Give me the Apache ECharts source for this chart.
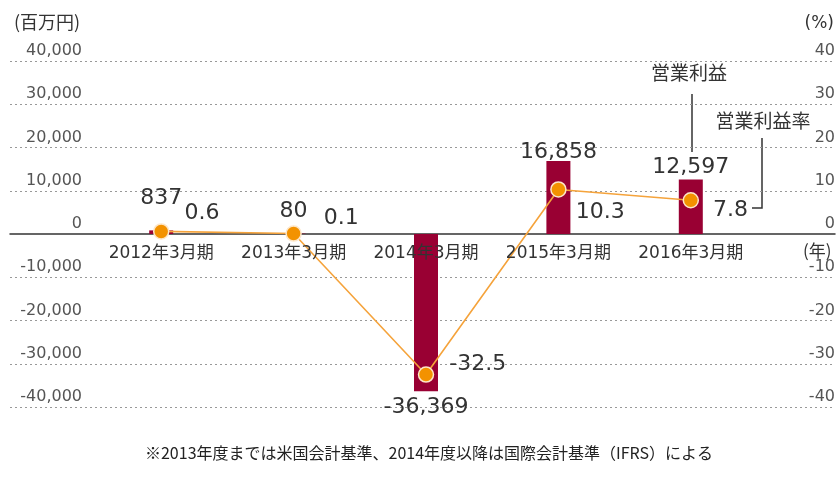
<!DOCTYPE html>
<html>
<head>
<meta charset="utf-8">
<script src="https://cdn.jsdelivr.net/npm/echarts@6/dist/echarts.min.js"></script>
<style>html,body{margin:0;padding:0;background:#fff}#c{width:838px;height:487px}</style>
</head>
<body>
<div id="c"></div>
<script>
// ---- data ----
const categories = ['2012年3月期', '2013年3月期', '2014年3月期', '2015年3月期', '2016年3月期'];
const operatingProfit = [837, 80, -36369, 16858, 12597];      // 百万円
const operatingMargin = [0.6, 0.1, -32.5, 10.3, 7.8];         // %
const leftTicks = { min: -40000, max: 40000, interval: 10000 };
const rightTicks = { min: -40, max: 40, interval: 10 };

// ---- label placement (layout only) ----
const barLabelOffsets = [[0, -16], [0, -6], [0, 0], [0, 7], [0, 4]];
const lineLabelOffsets = [[15, -18], [22, -15], [15, -10], [9, 23], [14, 10]];

const NUM_FONT = "'DejaVu Sans', 'Noto Sans CJK JP', sans-serif";
const JP_FONT = "'Noto Sans CJK JP', sans-serif";
const fmt = v => v.toLocaleString('en-US');

const chart = echarts.init(document.getElementById('c'), null, { renderer: 'canvas' });

const gridTop = 61, gridBottom = 80;
const plotHeight = 487 - gridTop - gridBottom;
const hiddenAxisParts = {
  axisLine: { show: false }, axisTick: { show: false },
  axisLabel: { show: false }, splitLine: { show: false }
};

const option = {
  animation: false,
  backgroundColor: '#fff',
  grid: [
    { left: 10, right: 3, top: gridTop, bottom: gridBottom },
    { left: 95, right: 81, top: gridTop, bottom: gridBottom }
  ],
  xAxis: [
    {
      gridIndex: 0, type: 'category', data: categories,
      axisLine: { show: true, onZero: true, lineStyle: { color: '#333', width: 1.5 } },
      axisTick: { show: false }, axisLabel: { show: false }, splitLine: { show: false }
    },
    {
      gridIndex: 1, type: 'category', data: categories, z: 10,
      position: 'bottom', offset: -plotHeight / 2,
      axisLine: { show: false, onZero: false },
      axisTick: { show: false },
      axisLabel: { interval: 0, margin: 11, color: '#333', fontSize: 17, fontFamily: NUM_FONT },
      name: '(年)', nameLocation: 'end', nameGap: 46,
      nameTextStyle: { color: '#333', fontSize: 17, fontFamily: JP_FONT, align: 'left', verticalAlign: 'top', padding: [8, 0, 0, 0] }
    }
  ],
  yAxis: [
    {
      gridIndex: 0, type: 'value', position: 'left',
      min: leftTicks.min, max: leftTicks.max, interval: leftTicks.interval,
      axisLine: { show: false }, axisTick: { show: false },
      axisLabel: {
        inside: true, margin: 72, align: 'right', verticalAlign: 'bottom', padding: [0, 0, 2, 0],
        color: '#555', fontSize: 16, fontFamily: NUM_FONT,
        formatter: v => fmt(v)
      },
      splitLine: {
        show: true,
        lineStyle: { type: [2, 3], width: 1, color: ['#999', '#999', '#999', '#999', 'rgba(0,0,0,0)', '#999', '#999', '#999', '#999'] }
      }
    },
    {
      gridIndex: 0, type: 'value', position: 'right',
      min: rightTicks.min, max: rightTicks.max, interval: rightTicks.interval,
      axisLine: { show: false }, axisTick: { show: false },
      axisLabel: {
        inside: true, margin: 0, align: 'right', verticalAlign: 'bottom', padding: [0, 0, 2, 0],
        color: '#555', fontSize: 16, fontFamily: NUM_FONT
      },
      splitLine: { show: false }
    },
    Object.assign({
      gridIndex: 1, type: 'value', position: 'left',
      min: leftTicks.min, max: leftTicks.max, interval: leftTicks.interval
    }, hiddenAxisParts),
    Object.assign({
      gridIndex: 1, type: 'value', position: 'right',
      min: rightTicks.min, max: rightTicks.max, interval: rightTicks.interval
    }, hiddenAxisParts)
  ],
  series: [
    {
      name: '営業利益', type: 'bar', xAxisIndex: 1, yAxisIndex: 2,
      barWidth: 24, z: 2,
      itemStyle: { color: '#990033' },
      label: {
        show: true, position: 'top', distance: 5,
        color: '#333', fontSize: 22, fontFamily: NUM_FONT,
        formatter: p => fmt(p.value)
      },
      data: operatingProfit.map((v, i) => ({
        value: v,
        label: { position: v < 0 ? 'bottom' : 'top', offset: barLabelOffsets[i] }
      }))
    },
    {
      name: '営業利益率', type: 'line', xAxisIndex: 1, yAxisIndex: 3, z: 5,
      symbol: 'circle', symbolSize: 15,
      lineStyle: { color: '#f5a33b', width: 1.6 },
      itemStyle: { color: '#f39200', borderColor: '#fde6c8', borderWidth: 1.5 },
      label: {
        show: true, position: 'right', distance: 0, align: 'left',
        color: '#333', fontSize: 22, fontFamily: NUM_FONT
      },
      data: operatingMargin.map((v, i) => ({
        value: v,
        label: { offset: lineLabelOffsets[i] }
      }))
    }
  ],
  graphic: [
    { type: 'text', left: 14, top: 13, style: { text: '(百万円)', fill: '#333', font: "18px 'Noto Sans CJK JP', sans-serif" } },
    { type: 'text', right: 4, top: 15, style: { text: '(%)', fill: '#333', font: "17px 'DejaVu Sans', sans-serif" } },
    { type: 'text', x: 689, y: 73, style: { text: '営業利益', fill: '#333', font: "19px 'Noto Sans CJK JP', sans-serif", textAlign: 'center', textVerticalAlign: 'middle' } },
    { type: 'text', x: 763, y: 121, style: { text: '営業利益率', fill: '#333', font: "19px 'Noto Sans CJK JP', sans-serif", textAlign: 'center', textVerticalAlign: 'middle' } },
    { type: 'polyline', shape: { points: [[692, 94], [692, 152]] }, style: { stroke: '#333', lineWidth: 1.5, fill: null } },
    { type: 'polyline', shape: { points: [[752, 208], [762, 208], [762, 138]] }, style: { stroke: '#333', lineWidth: 1.5, fill: null } },
    { type: 'text', x: 429, y: 453, style: { text: '※2013年度までは米国会計基準、2014年度以降は国際会計基準（IFRS）による', fill: '#222', font: "16px 'Noto Sans CJK JP', sans-serif", textAlign: 'center', textVerticalAlign: 'middle' } }
  ]
};

chart.setOption(option);
</script>
</body>
</html>
